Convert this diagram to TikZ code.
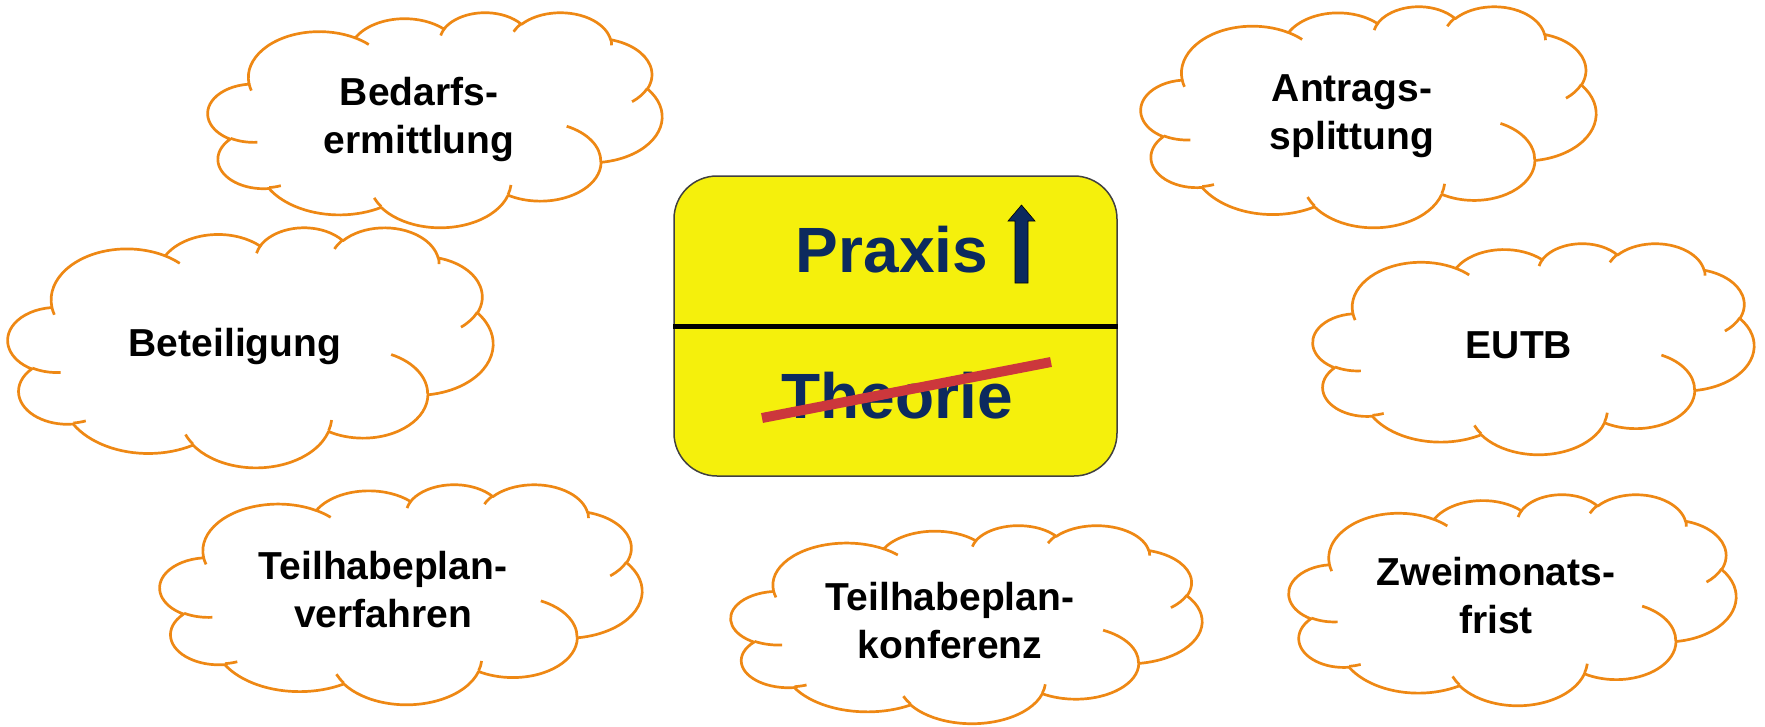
\documentclass[tikz,border=0pt]{standalone}
\usepackage{fontspec}
\setmainfont{Liberation Sans}
\usepackage{tikz}
\definecolor{cloudorange}{RGB}{238,136,20}
\definecolor{signyellow}{RGB}{245,240,12}
\definecolor{signblue}{RGB}{12,42,94}
\definecolor{strikered}{RGB}{204,55,60}
\tikzstyle{cloudline}=[draw=cloudorange,line width=2.7pt,line join=round]
\tikzstyle{cloudtext}=[align=center,font=\fontsize{39}{48}\selectfont\bfseries,inner sep=0pt]
\tikzstyle{sign}=[rectangle,draw=black!75,line width=1.5pt,fill=signyellow,rounded corners=43pt]
\tikzstyle{signtext}=[text=signblue,font=\fontsize{64}{64}\selectfont\bfseries,inner sep=0pt]

\begin{document}
\begin{tikzpicture}[x=1pt,y=-1pt]
  \useasboundingbox (0,0) rectangle (1765,726);
  % clouds: left/top/width/height
  \foreach \cx/\cy/\cw/\ch in {208/12/454/215, 8/227/485/240, 160/484/482/220,
      731/525/471/198, 1141/6/455/221, 1313/243/441/211, 1289/494/447/211} {
    \pgfmathsetmacro{\sx}{\cw/43.2}
    \pgfmathsetmacro{\sy}{\ch/43.2}
    \begin{scope}[shift={(\cx,\cy)},x=\sx pt,y=-\sy pt]
      \draw[cloudline,fill=white] (3.9,14.37)
        \foreach \wr/\hr/\st/\sw in {6.753/9.19/-190.4875/123.7805,
            5.333/7.267/-144.1024/89.9452, 4.365/5.945/-145.8079/99.7230,
            4.857/6.595/-130.9861/117.2417, 5.333/7.273/-78.7089/109.0269,
            6.775/9.22/-46.2673/130.269, 5.785/7.867/0.625/114.0333,
            6.752/9.215/22.4516/115.1726, 7.72/10.543/66.2426/75.711,
            4.36/5.918/-274.9421/146.7356, 4.345/5.945/-246.8285/152.5189}
        { arc[x radius=\wr, y radius=\hr,
              start angle={atan2(\wr*sin(\st),\hr*cos(\st))},
              delta angle={mod(atan2(\wr*sin(\st+\sw),\hr*cos(\st+\sw))-atan2(\wr*sin(\st),\hr*cos(\st))+720,360)}] }
        -- cycle;
      \draw[cloudline]
        \foreach \mx/\my/\wr/\hr/\st/\sw in {4.693/26.177/4.345/5.945/86.742/26.4298,
            6.928/34.899/4.36/5.918/73.6105/11.4475,
            16.478/39.09/6.752/9.215/137.6242/14.0811,
            28.827/34.751/6.752/9.215/6.4533/15.9984,
            34.129/22.954/5.785/7.867/-70.2924/70.9174,
            41.798/15.354/5.333/7.273/30.318/27.7515,
            38.324/5.426/4.857/6.595/-13.7443/14.8589,
            29.078/3.952/4.857/6.595/-149.1815/18.1954,
            22.141/4.72/4.365/5.945/-163.4943/17.6864,
            14.0/5.192/6.753/9.19/-66.707/12.3194,
            4.127/15.789/6.753/9.19/157.6544/11.8582}
        { (\mx,\my) arc[x radius=\wr, y radius=\hr,
              start angle={atan2(\wr*sin(\st),\hr*cos(\st))},
              delta angle={mod(atan2(\wr*sin(\st+\sw),\hr*cos(\st+\sw))-atan2(\wr*sin(\st),\hr*cos(\st))+720,360)}] };
    \end{scope}
  }

  \node[cloudtext,anchor=base] (bedarf) at (419,153) {Bedarfs-\\ermittlung};
  \node[cloudtext,anchor=base] (beteiligung) at (235,356) {Beteiligung};
  \node[cloudtext,anchor=base] (verfahren) at (383,627) {Teilhabeplan-\\verfahren};
  \node[cloudtext,anchor=base] (konferenz) at (950,658) {Teilhabeplan-\\konferenz};
  \node[cloudtext,anchor=base] (antrag) at (1352,149) {Antrags-\\splittung};
  \node[cloudtext,anchor=base] (eutb) at (1519,358) {EUTB};
  \node[cloudtext,anchor=base] (frist) at (1496,633) {Zweimonats-\\frist};

  % sign
  \node[sign,minimum width=443pt,minimum height=300pt] (sign) at (895.5,326) {};
  \draw[line width=5pt] (sign.west) -- (sign.east);
  \node[signtext,anchor=base] (praxis) at (892,272) {Praxis};
  \node[signtext,anchor=base] (theorie) at (897,418) {Theorie};
  \draw[fill=signblue,draw=black,line width=0.6pt] (1015,283) -- (1015,221) -- (1008,221)
    -- (1021.5,205) -- (1035,221) -- (1028,221) -- (1028,283) -- cycle;
  \coordinate (strike start) at (762,418);
  \coordinate (strike end) at (1051,362);
  \draw[strikered,line width=10pt] (strike start) -- (strike end);
\end{tikzpicture}
\end{document}
